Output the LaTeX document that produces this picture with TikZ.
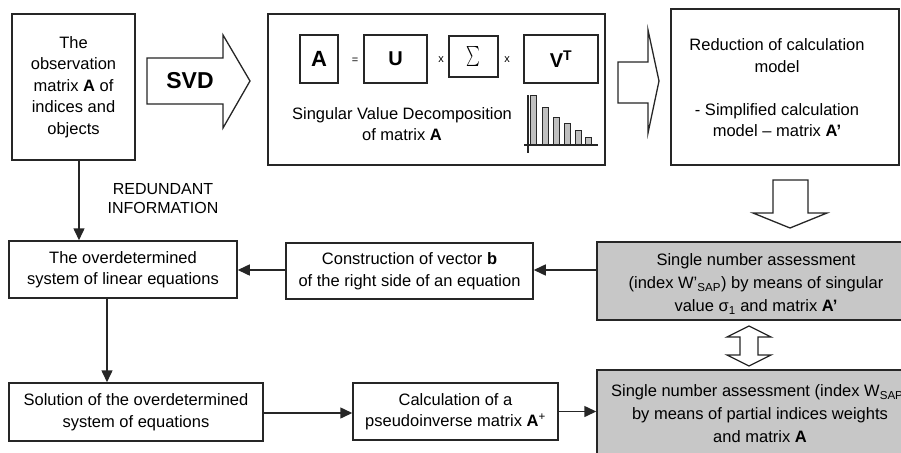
\documentclass[tikz,border=0pt]{standalone}
\usepackage{fontspec}
\usepackage{graphicx}
\setmainfont{Liberation Sans}
\usetikzlibrary{arrows.meta}
\begin{document}
\begin{tikzpicture}[x=1pt,y=-1pt,
  box/.style={draw=black!85, line width=1.5pt, align=center, inner sep=0pt, font=\fontsize{16.5}{21.5}\selectfont},
  gbox/.style={box, fill=black!22},
  txt/.style={align=center, inner sep=0pt, font=\fontsize{16.5}{21.5}\selectfont},
  gtxt/.style={align=center, inner sep=0pt, font=\fontsize{16.5}{23}\selectfont},
  conn/.style={draw=black!85, line width=1.5pt, -{Triangle[length=12pt,width=11pt]}},
  hollow/.style={draw=black!85, line width=1.3pt, fill=white, line join=miter},
  bar/.style={draw=black!85, fill=black!25, line width=0.8pt},
  ]
\useasboundingbox (0,0) rectangle (901,452);
\clip (0,0) rectangle (901,452);
% top row
\node[box, minimum width=123pt, minimum height=146pt] (obs) at (73.5,87) {The\\observation\\matrix \textbf{A} of\\indices and\\objects};
\draw[hollow] (147,58) -- (223,58) -- (223,35) -- (250,81) -- (223,128) -- (223,104) -- (147,104) -- cycle;
\node[font=\fontsize{23}{23}\selectfont\bfseries] (svd) at (190,81) {SVD};
\node[box, minimum width=337pt, minimum height=151pt] (svdbox) at (436.5,89.5) {};
\node[box, minimum width=38pt, minimum height=48pt, font=\fontsize{22}{22}\selectfont\bfseries] (mA) at (319,59) {A};
\node[box, minimum width=63pt, minimum height=48pt, font=\fontsize{20}{20}\selectfont\bfseries] (mU) at (395.5,59) {U};
\node[box, minimum width=49pt, minimum height=41pt, font=\fontsize{11}{11}\selectfont] (mS) at (473.5,56.5) {\scalebox{1.3}[2]{$\sum$}};
\node[box, minimum width=74pt, minimum height=48pt, font=\fontsize{20}{20}\selectfont\bfseries] (mV) at (561,59) {V\textsuperscript{T}};
\node[font=\fontsize{11}{11}\selectfont] (eq) at (355,61) {=};
\node[font=\fontsize{11}{11}\selectfont] (x1) at (441,60) {x};
\node[font=\fontsize{11}{11}\selectfont] (x2) at (507,60) {x};
\node[txt] (svdtxt) at (402,124) {Singular Value Decomposition\\of matrix \textbf{A}};
\foreach \xa/\ya in {530/95, 542/107, 553/117, 564/123, 575/130, 585/137}
  \draw[bar] (\xa,145) rectangle (\xa+6,\ya);
\draw[black!85, line width=1.1pt] (524,145) -- (598,145);
\draw[black!85, line width=1.1pt] (528,95) -- (528,153);
\draw[hollow] (618,62) -- (648,62) -- (648,30) -- (659,81) -- (648,133) -- (648,103) -- (618,103) -- cycle;
\node[box, minimum width=228pt, minimum height=156pt] (red) at (785,87) {};
\node[txt] (redtxt) at (777,88) {Reduction of calculation\\model\\[21.5pt]- Simplified calculation\\model -- matrix \textbf{A'}};
\draw[hollow] (773,180) -- (808,180) -- (808,213) -- (827,213) -- (790,228) -- (753,213) -- (773,213) -- cycle;
% gray boxes
\node[gbox, minimum width=309pt, minimum height=78pt] (g1) at (751.5,281) {};
\node[gtxt] (g1txt) at (756,284) {Single number assessment\\(index W'\textsubscript{SAP}) by means of singular\\value σ\textsubscript{1} and matrix \textbf{A'}};
\draw[hollow] (740,337) -- (727,337) -- (749,326) -- (771,337) -- (758,337) -- (758,355) -- (771,355) -- (749,366) -- (727,355) -- (740,355) -- cycle;
\node[gbox, minimum width=309pt, minimum height=100pt] (g2) at (751.5,420) {};
\node[gtxt] (g2txt) at (760,414) {Single number assessment (index W\textsubscript{SAP})\\by means of partial indices weights\\and matrix \textbf{A}};
% left boxes
\node[box, minimum width=228pt, minimum height=57pt] (over) at (123,269.5) {The overdetermined\\system of linear equations};
\node[box, minimum width=247pt, minimum height=56pt] (cons) at (409.5,271) {Construction of vector \textbf{b}\\of the right side of an equation};
\node[box, minimum width=254pt, minimum height=58pt] (sol) at (136,412) {Solution of the overdetermined\\system of equations};
\node[box, minimum width=205pt, minimum height=57pt] (calc) at (455.5,411.5) {Calculation of a\\pseudoinverse matrix \textbf{A}\textsuperscript{+}};
\node[align=center, inner sep=0pt, font=\fontsize{16}{19}\selectfont] (redund) at (163,198.5) {REDUNDANT\\INFORMATION};
% connectors
\draw[conn] ([xshift=5.5pt]obs.south) -- ([xshift=5.5pt]obs.south |- over.north);
\draw[conn] ([yshift=11pt]g1.west) -- ([yshift=11pt]g1.west -| cons.east);
\draw[conn] ([yshift=1pt]cons.west) -- ([yshift=1pt]cons.west -| over.east);
\draw[conn] ([xshift=-16pt]over.south) -- ([xshift=-16pt]over.south |- sol.north);
\draw[conn] ([yshift=-1pt]sol.east) -- ([yshift=-1pt]sol.east -| calc.west);
\draw[conn] (calc.east) -- (calc.east -| g2.west);
\end{tikzpicture}
\end{document}
